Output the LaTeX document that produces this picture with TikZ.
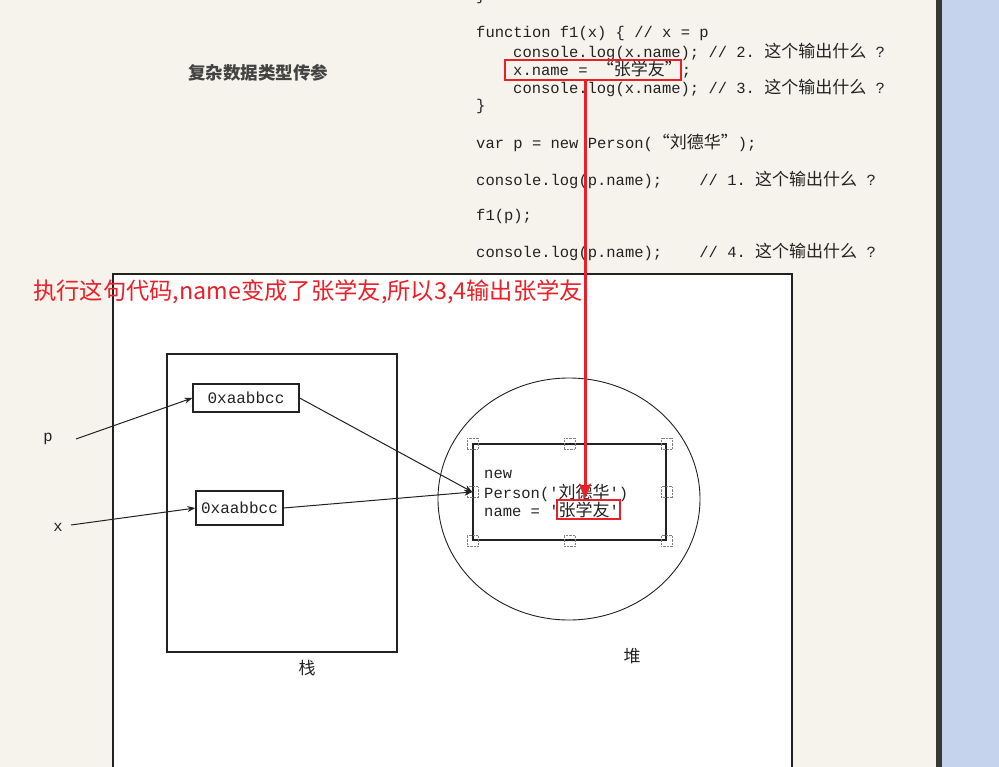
\documentclass[tikz,border=0pt]{standalone}
\usepackage{fontspec}
\usetikzlibrary{arrows.meta,shapes.geometric}
\setmonofont{Liberation Mono}
\newfontfamily\cjk{Noto Sans CJK SC}
\newcommand{\zh}[1]{{\cjk\fontsize{17}{18}\selectfont #1}}
\definecolor{paper}{HTML}{F5F3EC}
\definecolor{side}{HTML}{C5D3EC}
\definecolor{ink}{HTML}{222222}
\definecolor{hotred}{HTML}{EB1F27}

\begin{document}
\begin{tikzpicture}[x=1pt,y=-1pt]
  \tikzset{code/.style={anchor=west,inner sep=0pt,text=ink,
      font=\ttfamily\fontsize{15.5}{18}\selectfont},
    cell/.style={draw=ink,line width=1.3pt,fill=white,inner sep=0pt,text=ink,
      font=\ttfamily\fontsize{16}{18}\selectfont},
    handle/.style={draw=gray,densely dotted,minimum size=11pt,inner sep=0pt},
    zhlabel/.style={text=ink,font=\cjk\fontsize{17}{17}\selectfont},
    link/.style={draw=ink,line width=1pt,-{Stealth[length=8pt,width=6pt]}},
    redbox/.style={draw=hotred,line width=2.6pt,inner sep=0pt}}
  \useasboundingbox (0,0) rectangle (999,767);
  \fill[paper] (0,0) rectangle (999,767);
  \fill[side] (942,0) rectangle (999,767);
  \fill[ink!90] (936,0) rectangle (942,767);
  \draw[ink,line width=1.3pt,fill=white] (113,775) -- (113,274) -- (792,274) -- (792,775);

  \node[zhlabel,font=\cjk\bfseries\fontsize{17.5}{17}\selectfont,text=ink!85] (title) at (258,73) {复杂数据类型传参};
  \node[code] (prev) at (476,-4) {\}};
  \node[code] (fn) at (476,33) {function f1(x) \{ // x = p};
  \node[code] (c2) at (513,52) {console.log(x.name); // 2. \zh{这个输出什么} ?};
  \node[code] (set) at (513,70) {x.name = \zh{“张学友”};};
  \node[code] (c3) at (513,88) {console.log(x.name); // 3. \zh{这个输出什么} ?};
  \node[code] (close) at (476,106) {\}};
  \node[code] (var) at (476,143) {var p = new Person(\zh{“刘德华”});};
  \node[code] (c1) at (476,180) {console.log(p.name);~~~~// 1. \zh{这个输出什么} ?};
  \node[code] (call) at (476,216) {f1(p);};
  \node[code] (c4) at (476,252) {console.log(p.name);~~~~// 4. \zh{这个输出什么} ?};

  \node[draw=ink,line width=1.3pt,minimum width=230pt,minimum height=298pt] (stack) at (282,503) {};
  \node[zhlabel] (stacklbl) at (307,668) {栈};
  \node[cell,minimum width=106pt,minimum height=28pt] (box1) at (246,398) {0xaabbcc};
  \node[cell,minimum width=87pt,minimum height=34pt] (box2) at (239.5,508) {0xaabbcc};
  \node[code,anchor=center] (pv) at (48,439) {p};
  \node[code,anchor=center] (xv) at (58,527) {x};
  \coordinate (pfrom) at (76,439);
  \coordinate (xfrom) at (71,525);

  \node[draw=ink,line width=0.9pt,ellipse,minimum width=262pt,minimum height=242pt] (heap) at (569,499) {};
  \node[zhlabel] (heaplbl) at (632,656) {堆};
  \node[draw=ink,line width=1.3pt,minimum width=193pt,minimum height=96pt] (obj) at (569.5,492) {};
  \foreach \a in {north west,north,north east,west,east,south west,south,south east}
    \node[handle] at (obj.\a) {};
  \node[code] (hnew) at (484,474) {new};
  \node[code] (hperson) at (484,493) {Person('\zh{刘德华}')};
  \node[code] (hname) at (484,510) {name = '\zh{张学友}'};

  \draw[link] (pfrom) -- (box1.west);
  \draw[link] (xfrom) -- (box2.west);
  \draw[link] (box1.east) -- (obj.west);
  \draw[link] (box2.east) -- (obj.west);

  \node[redbox,minimum width=176pt,minimum height=20pt] (hit) at (593,70) {};
  \node[redbox,minimum width=63pt,minimum height=19pt] (newname) at (588.5,509.5) {};
  \draw[hotred,line width=3pt,-{Stealth[length=15pt,width=12pt,inset=3pt]}]
    ([xshift=-8pt]hit.south) -- ([xshift=-3.5pt]newname.north);
  \node[anchor=west,inner sep=0pt,text=hotred,font=\cjk\fontsize{23.3}{26}\selectfont] (note)
    at (33,292) {执行这句代码,name变成了张学友,所以3,4输出张学友};
\end{tikzpicture}
\end{document}
